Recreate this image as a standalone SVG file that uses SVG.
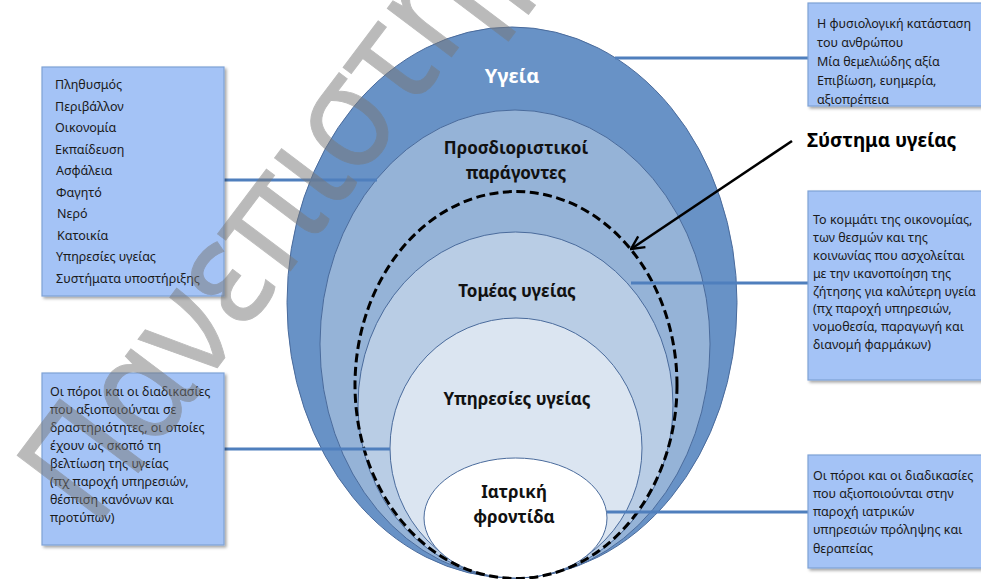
<svg xmlns="http://www.w3.org/2000/svg" width="981" height="579" viewBox="0 0 981 579">
  <defs>
    <filter id="shadow" x="-10%" y="-10%" width="130%" height="130%">
      <feDropShadow dx="2" dy="2" stdDeviation="1.5" flood-color="#000" flood-opacity="0.35"/>
    </filter>
    <marker id="arrowOpen" viewBox="0 0 12 12" refX="11" refY="6" markerWidth="6" markerHeight="6" orient="auto" markerUnits="strokeWidth">
      <path d="M1,1 L11,6 L1,11" fill="none" stroke="#000" stroke-width="1.8"/>
    </marker>
  </defs>
  <style>
    .ring { stroke: #4a6b9c; stroke-width: 1; }
    .box { fill: #a4c3f6; stroke: #7fa2d6; stroke-width: 1.2; filter: url(#shadow); }
    .txt { font-family: "Noto Sans", "DejaVu Sans", sans-serif; font-size: 12.5px; fill: #1a1a1a; }
    .lbl { font-family: "Noto Sans", "DejaVu Sans", sans-serif; font-size: 17px; font-weight: bold; fill: #111; text-anchor: middle; }
    .conn { stroke: #4f7fbd; stroke-width: 3; fill: none; }
    .wm { font-family: "Noto Sans", "DejaVu Sans", sans-serif; font-size: 150px; fill: #787878; stroke: #787878; stroke-width: 1; }
  </style>

  <rect width="981" height="579" fill="#ffffff"/>

  <!-- nested layers, all touching at the bottom -->
  <g id="rings">
    <g id="ygeia"><ellipse class="ring" cx="512" cy="302.5" rx="225" ry="275.5" fill="#6892c6"/></g>
    <g id="prosdioristikoi"><ellipse class="ring" cx="515" cy="344" rx="195" ry="234" fill="#95b3d7"/></g>
    <g id="tomeas"><ellipse class="ring" cx="515.5" cy="405" rx="157.5" ry="173" fill="#b9cde5"/></g>
    <g id="ypiresies"><ellipse class="ring" cx="516" cy="448" rx="126" ry="130" fill="#dbe5f1"/></g>
    <g id="iatriki"><ellipse class="ring" cx="515.5" cy="518" rx="91.5" ry="60" fill="#ffffff"/></g>
    <g id="systima-boundary"><ellipse cx="516" cy="385" rx="161" ry="193.5" fill="none" stroke="#000" stroke-width="3" stroke-dasharray="9 4.5"/></g>
  </g>

  <!-- connectors -->
  <g id="connectors">
    <line class="conn" x1="615" y1="58" x2="808" y2="58"/>
    <line class="conn" x1="224" y1="180" x2="377" y2="180"/>
    <line class="conn" x1="631" y1="283" x2="808" y2="283"/>
    <line class="conn" x1="224" y1="449" x2="390" y2="449"/>
    <line class="conn" x1="607" y1="512" x2="808" y2="512"/>
    <line x1="792" y1="141" x2="631" y2="249" stroke="#000" stroke-width="2.6" marker-end="url(#arrowOpen)"/>
  </g>

  <!-- ring labels -->
  <g id="labels">
    <text class="lbl" x="512" y="83" style="fill:#ffffff;font-size:20px">Υγεία</text>
    <text class="lbl" x="516" y="154">Προσδιοριστικοί</text>
    <text class="lbl" x="516" y="179">παράγοντες</text>
    <text class="lbl" x="517" y="297">Τομέας υγείας</text>
    <text class="lbl" x="517" y="405">Υπηρεσίες υγείας</text>
    <text class="lbl" x="514" y="498">Ιατρική</text>
    <text class="lbl" x="514" y="523">φροντίδα</text>
  </g>

  <g id="systima-label">
    <text x="807" y="147" font-family="Noto Sans, DejaVu Sans, sans-serif" font-size="19" font-weight="bold" fill="#000">Σύστημα υγείας</text>
  </g>

  <!-- side notes -->
  <g id="box-determinants">
    <rect class="box" x="42" y="67" width="182" height="229"/>
    <text class="txt" x="55">
      <tspan x="55" y="89">Πληθυσμός</tspan>
      <tspan x="55" y="110.5">Περιβάλλον</tspan>
      <tspan x="55" y="132">Οικονομία</tspan>
      <tspan x="55" y="153.5">Εκπαίδευση</tspan>
      <tspan x="56" y="175">Ασφάλεια</tspan>
      <tspan x="56" y="196.5">Φαγητό</tspan>
      <tspan x="57" y="218">Νερό</tspan>
      <tspan x="57" y="239.5">Κατοικία</tspan>
      <tspan x="56" y="261">Υπηρεσίες υγείας</tspan>
      <tspan x="56" y="282.5">Συστήματα υποστήριξης</tspan>
    </text>
  </g>

  <g id="box-health">
    <rect class="box" x="808" y="3" width="185" height="103"/>
    <text class="txt">
      <tspan x="817" y="28">Η φυσιολογική κατάσταση</tspan>
      <tspan x="817" y="47">του ανθρώπου</tspan>
      <tspan x="817" y="66">Μία θεμελιώδης αξία</tspan>
      <tspan x="817" y="85">Επιβίωση, ευημερία,</tspan>
      <tspan x="817" y="104">αξιοπρέπεια</tspan>
    </text>
  </g>

  <g id="box-sector">
    <rect class="box" x="808" y="191" width="185" height="189"/>
    <text class="txt">
      <tspan x="813" y="224">Το κομμάτι της οικονομίας,</tspan>
      <tspan x="813" y="242">των θεσμών και της</tspan>
      <tspan x="813" y="260">κοινωνίας που ασχολείται</tspan>
      <tspan x="813" y="277.5">με την ικανοποίηση της</tspan>
      <tspan x="813" y="295.5">ζήτησης για καλύτερη υγεία</tspan>
      <tspan x="813" y="313">(πχ παροχή υπηρεσιών,</tspan>
      <tspan x="813" y="331">νομοθεσία, παραγωγή και</tspan>
      <tspan x="813" y="348.5">διανομή φαρμάκων)</tspan>
    </text>
  </g>

  <g id="box-services">
    <rect class="box" x="42" y="373" width="182" height="172"/>
    <text class="txt">
      <tspan x="50" y="396">Οι πόροι και οι διαδικασίες</tspan>
      <tspan x="50" y="413.5">που αξιοποιούνται σε</tspan>
      <tspan x="50" y="431.5">δραστηριότητες, οι οποίες</tspan>
      <tspan x="50" y="449.5">έχουν ως σκοπό τη</tspan>
      <tspan x="50" y="467.5">βελτίωση της υγείας</tspan>
      <tspan x="50" y="485.5">(πχ  παροχή υπηρεσιών,</tspan>
      <tspan x="50" y="503.5">θέσπιση κανόνων και</tspan>
      <tspan x="50" y="521.5">προτύπων)</tspan>
    </text>
  </g>

  <g id="box-care">
    <rect class="box" x="808" y="455" width="185" height="113"/>
    <text class="txt">
      <tspan x="813" y="480">Οι πόροι και οι διαδικασίες</tspan>
      <tspan x="813" y="498">που αξιοποιούνται στην</tspan>
      <tspan x="813" y="516">παροχή ιατρικών</tspan>
      <tspan x="813" y="534">υπηρεσιών πρόληψης και</tspan>
      <tspan x="813" y="553">θεραπείας</tspan>
    </text>
  </g>

  <!-- diagonal watermark over everything -->
  <g id="watermark" opacity="0.5">
    <text class="wm" transform="translate(95 530) rotate(-53) scale(0.88 1)">Πανεπιστήμιο</text>
  </g>
</svg>
